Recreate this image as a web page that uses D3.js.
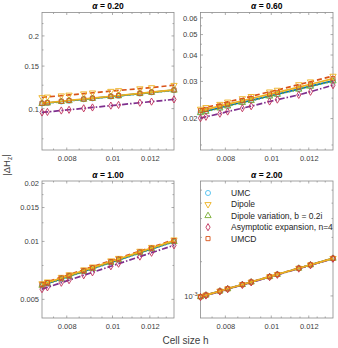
<!DOCTYPE html>
<html><head><meta charset="utf-8">
<script src="https://cdn.jsdelivr.net/npm/d3@7"></script>
<style>
body{margin:0;background:#fff;}
svg{font-family:"Liberation Sans",Arial,Helvetica,sans-serif;}
</style></head>
<body><svg id="c" width="338" height="348"></svg>
<script>
// ---------- DATA ----------
const cellSize = [0.00709, 0.00728, 0.00779, 0.00809, 0.00869, 0.00907, 0.00992, 0.0103, 0.01143, 0.0121, 0.0135];
const alphaLabels = ["0.20", "0.60", "1.00", "2.00"];
const seriesNames = ["UMC", "Dipole", "Dipole variation, b = 0.2i", "Asymptotic expansion, n=4", "UMCD"];

// alpha = 0.20
const a020_UMC  = [0.1050, 0.1055, 0.1070, 0.1078, 0.1093, 0.1102, 0.1122, 0.1130, 0.1154, 0.1167, 0.1192];
const a020_Dip  = [0.1112, 0.1118, 0.1131, 0.1139, 0.1153, 0.1163, 0.1181, 0.1189, 0.1210, 0.1223, 0.1250];
const a020_DipV = [0.1048, 0.1053, 0.1068, 0.1076, 0.1091, 0.1100, 0.1120, 0.1128, 0.1152, 0.1165, 0.1190];
const a020_Asy  = [0.0964, 0.0969, 0.0982, 0.0989, 0.1003, 0.1011, 0.1029, 0.1036, 0.1058, 0.1069, 0.1092];
const a020_UMCD = [0.1053, 0.1058, 0.1073, 0.1081, 0.1096, 0.1105, 0.1125, 0.1133, 0.1157, 0.1170, 0.1195];
// alpha = 0.60
const a060_UMC  = [0.0214, 0.0217, 0.0225, 0.0230, 0.0239, 0.0244, 0.0256, 0.0261, 0.0276, 0.0285, 0.0302];
const a060_Dip  = [0.0222, 0.0226, 0.0234, 0.0240, 0.0249, 0.0255, 0.0268, 0.0273, 0.0290, 0.0299, 0.0318];
const a060_DipV = [0.0213, 0.0216, 0.0224, 0.0229, 0.0238, 0.0243, 0.0255, 0.0260, 0.0275, 0.0284, 0.0301];
const a060_Asy  = [0.0201, 0.0204, 0.0211, 0.0216, 0.0224, 0.0229, 0.0241, 0.0246, 0.0259, 0.0268, 0.0288];
const a060_UMCD = [0.0218, 0.0221, 0.0229, 0.0234, 0.0243, 0.0249, 0.0261, 0.0266, 0.0282, 0.0291, 0.0309];
// alpha = 1.00
const a100_UMC  = [0.00592, 0.00605, 0.00639, 0.00659, 0.00699, 0.00724, 0.00778, 0.00802, 0.00873, 0.00915, 0.01000];
const a100_Dip  = [0.00604, 0.00617, 0.00652, 0.00672, 0.00713, 0.00738, 0.00794, 0.00818, 0.00891, 0.00933, 0.01020];
const a100_DipV = [0.00590, 0.00603, 0.00637, 0.00657, 0.00697, 0.00721, 0.00776, 0.00800, 0.00871, 0.00912, 0.00997];
const a100_Asy  = [0.00565, 0.00577, 0.00610, 0.00629, 0.00667, 0.00691, 0.00743, 0.00766, 0.00834, 0.00873, 0.00955];
const a100_UMCD = [0.00598, 0.00611, 0.00646, 0.00666, 0.00706, 0.00731, 0.00786, 0.00810, 0.00882, 0.00924, 0.01010];
// alpha = 2.00
const a200_UMC  = [0.000990, 0.001009, 0.001058, 0.001087, 0.001143, 0.001178, 0.001255, 0.001289, 0.001387, 0.001444, 0.001560];
const a200_Dip  = [0.000992, 0.001011, 0.001060, 0.001089, 0.001145, 0.001180, 0.001257, 0.001291, 0.001389, 0.001446, 0.001562];
const a200_DipV = [0.000989, 0.001008, 0.001057, 0.001086, 0.001142, 0.001177, 0.001254, 0.001288, 0.001386, 0.001443, 0.001559];
const a200_Asy  = [0.000986, 0.001005, 0.001054, 0.001083, 0.001139, 0.001174, 0.001250, 0.001284, 0.001382, 0.001438, 0.001554];
const a200_UMCD = [0.000991, 0.001010, 0.001059, 0.001088, 0.001144, 0.001179, 0.001256, 0.001290, 0.001388, 0.001445, 0.001561];

// axis tick values / labels
const xTicks = [0.008, 0.01, 0.012];
const xTickLabels = ["0.008", "0.01", "0.012"];
const xMinor = [0.0075, 0.0085, 0.009, 0.0095, 0.0105, 0.011, 0.0115, 0.0125, 0.013];
const yTicksP1 = [0.1, 0.15, 0.2];            const yLabelsP1 = ["0.1", "0.15", "0.2"];
const yMinorP1 = [0.075, 0.125, 0.175, 0.225];
const yTicksP2 = [0.02, 0.03, 0.04, 0.05, 0.06]; const yLabelsP2 = ["0.02", "0.03", "0.04", "0.05", "0.06"];
const yMinorP2 = [0.015, 0.025, 0.035, 0.045, 0.055];
const yTicksP3 = [0.005, 0.01, 0.015, 0.02];   const yLabelsP3 = ["0.005", "0.01", "0.015", "0.02"];
const yMinorP3 = [0.0075, 0.0125, 0.0175];
const yTicksP4 = [0.001];                      const yLabelsP4 = ["10^-3"];
const yMinorP4 = [0.0015, 0.002, 0.0025, 0.003, 0.0035];
const yDomains = [[0.0674, 0.25], [0.0142, 0.0636], [0.0040, 0.0206], [0.00077, 0.0039]];
const xDomain = [0.00709, 0.0135];

// ---------- STYLE ----------
const lineColors  = ["#0072BD", "#D95319", "#77AC30", "#7E2F8E", "#EDB120"];
const lineDash    = [null, "5,3", "1.5,2", "6,2,1.5,2", null];
const markColors  = ["#4DBEEE", "#EDB120", "#77AC30", "#C0305A", "#D95319"];
const markTypes   = [d3.symbolCircle, d3.symbolTriangle, d3.symbolTriangle, d3.symbolDiamond, d3.symbolSquare];
const markRot     = [0, 180, 0, 0, 0];
const markSize    = [20, 17, 17, 15, 17];

const panelData = [
  [a020_UMC, a020_Dip, a020_DipV, a020_Asy, a020_UMCD],
  [a060_UMC, a060_Dip, a060_DipV, a060_Asy, a060_UMCD],
  [a100_UMC, a100_Dip, a100_DipV, a100_Asy, a100_UMCD],
  [a200_UMC, a200_Dip, a200_DipV, a200_Asy, a200_UMCD]
];
const yTicks = [yTicksP1, yTicksP2, yTicksP3, yTicksP4];
const yLabels = [yLabelsP1, yLabelsP2, yLabelsP3, yLabelsP4];
const yMinor = [yMinorP1, yMinorP2, yMinorP3, yMinorP4];

const boxes = [
  {x0: 42, x1: 174, y0: 12.5, y1: 150},
  {x0: 200.5, x1: 333, y0: 12.5, y1: 150},
  {x0: 42, x1: 174, y0: 181, y1: 318},
  {x0: 200.5, x1: 333, y0: 181, y1: 318}
];

const svg = d3.select("#c");
const axisCol = "#8a8a8a", textCol = "#404040";

boxes.forEach((b, p) => {
  const x = d3.scaleLog().domain(xDomain).range([b.x0, b.x1]);
  const y = d3.scaleLog().domain(yDomains[p]).range([b.y1, b.y0]);
  const g = svg.append("g");

  g.append("rect").attr("x", b.x0).attr("y", b.y0).attr("width", b.x1 - b.x0).attr("height", b.y1 - b.y0)
    .attr("fill", "none").attr("stroke", axisCol).attr("stroke-width", 0.8);

  const tk = (vals, len) => {
    vals.forEach(v => {
      const px = x(v);
      g.append("line").attr("x1", px).attr("x2", px).attr("y1", b.y1).attr("y2", b.y1 - len).attr("stroke", axisCol).attr("stroke-width", 0.7);
      g.append("line").attr("x1", px).attr("x2", px).attr("y1", b.y0).attr("y2", b.y0 + len).attr("stroke", axisCol).attr("stroke-width", 0.7);
    });
  };
  tk(xTicks, 2.5); tk(xMinor, 1.5);
  const tky = (vals, len) => {
    vals.forEach(v => {
      const py = y(v);
      g.append("line").attr("y1", py).attr("y2", py).attr("x1", b.x0).attr("x2", b.x0 + len).attr("stroke", axisCol).attr("stroke-width", 0.7);
      g.append("line").attr("y1", py).attr("y2", py).attr("x1", b.x1).attr("x2", b.x1 - len).attr("stroke", axisCol).attr("stroke-width", 0.7);
    });
  };
  tky(yTicks[p], 2.5); tky(yMinor[p], 1.5);

  const xa = g.append("g").attr("transform", `translate(0,${b.y1})`)
    .call(d3.axisBottom(x).tickValues(xTicks).tickFormat((d, i) => xTickLabels[i]).tickSize(0).tickPadding(6));
  xa.select(".domain").remove();
  xa.selectAll("text").attr("font-size", 7.5).attr("fill", textCol).attr("font-family", "Liberation Sans, Arial, sans-serif");

  const ya = g.append("g").attr("transform", `translate(${b.x0},0)`)
    .call(d3.axisLeft(y).tickValues(yTicks[p]).tickFormat((d, i) => yLabels[p][i].startsWith("10^") ? "" : yLabels[p][i]).tickSize(0).tickPadding(3));
  ya.select(".domain").remove();
  ya.selectAll("text").attr("font-size", 7.5).attr("fill", textCol).attr("font-family", "Liberation Sans, Arial, sans-serif");
  ya.selectAll(".tick").each(function(d, i) {
    const lab = yLabels[p][i];
    if (lab.startsWith("10^")) {
      const t = d3.select(this).select("text");
      t.text(null);
      t.append("tspan").text("10");
      t.append("tspan").attr("dy", "-0.45em").attr("font-size", 5.5).text(lab.slice(3));
    }
  });

  const tt = svg.append("text").attr("x", (b.x0 + b.x1) / 2).attr("y", b.y0 - 3.5)
    .attr("text-anchor", "middle").attr("font-size", 8.5).attr("font-weight", "bold").attr("fill", "#000");
  tt.append("tspan").attr("font-style", "italic").text("\u03B1");
  tt.append("tspan").text(" = " + alphaLabels[p]);

  const line = d3.line().x((d, i) => x(cellSize[i])).y(d => y(d));
  panelData[p].forEach((vals, s) => {
    g.append("path").datum(vals).attr("d", line).attr("fill", "none")
      .attr("stroke", lineColors[s]).attr("stroke-width", 1.7)
      .attr("stroke-dasharray", lineDash[s]);
    const sym = d3.symbol().type(markTypes[s]).size(markSize[s]);
    g.selectAll(null).data(vals).enter().append("path")
      .attr("d", sym)
      .attr("transform", (d, i) => `translate(${x(cellSize[i])},${y(d)}) rotate(${markRot[s]})`)
      .attr("fill", "none").attr("stroke", markColors[s]).attr("stroke-width", 0.9);
  });
});

// legend (panel 4)
const lg = svg.append("g");
seriesNames.forEach((n, s) => {
  const yy = 193 + s * 11.4;
  lg.append("path").attr("d", d3.symbol().type(markTypes[s]).size(markSize[s])())
    .attr("transform", `translate(208,${yy}) rotate(${markRot[s]})`)
    .attr("fill", "none").attr("stroke", markColors[s]).attr("stroke-width", 0.9);
  lg.append("text").attr("x", 231).attr("y", yy + 3).attr("font-size", 8.5).attr("fill", "#262626").text(n);
});

svg.append("text").attr("x", 185.5).attr("y", 344).attr("text-anchor", "middle")
  .attr("font-size", 10).attr("fill", textCol).text("Cell size h");
const yl = svg.append("text").attr("transform", "translate(10,165) rotate(-90)")
  .attr("text-anchor", "middle").attr("font-size", 9.5).attr("fill", textCol);
yl.append("tspan").text("|\u0394H");
yl.append("tspan").attr("dy", "0.3em").attr("font-size", 6.5).text("z");
yl.append("tspan").attr("dy", "-0.3em").text("|");
</script></body></html>
